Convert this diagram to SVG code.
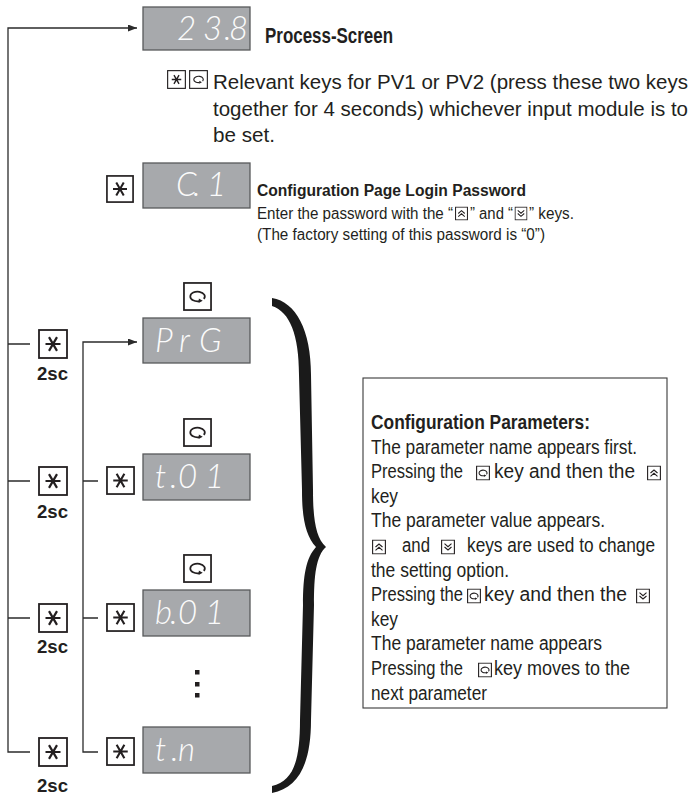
<svg xmlns="http://www.w3.org/2000/svg" xmlns:xlink="http://www.w3.org/1999/xlink" width="693" height="796" viewBox="0 0 693 796">
<style>
.ln{stroke:#2b2b2b;stroke-width:1.3;fill:none}
.disp{fill:#a7a9ac;stroke:#58595b;stroke-width:1.3}
.seg{font-family:Lato,Roboto,"DejaVu Sans",sans-serif;font-weight:300;font-style:italic;font-size:33px;fill:#fbfbfb}
.t{font-family:"Liberation Sans",Arial,sans-serif;fill:#231f20}
.b{font-weight:bold}
.f23{font-size:20.5px}
.f20{font-size:20px}
.f17{font-size:16px}
.dot{fill:#231f20}
</style>
<defs>
<marker id="ah" markerUnits="userSpaceOnUse" markerWidth="9" markerHeight="7" refX="9" refY="3.5" orient="auto">
<path d="M0,0L9,3.5L0,7Z" fill="#2b2b2b"/>
</marker>
<symbol id="kstar" viewBox="0 0 30 30">
<rect x="1" y="1" width="28" height="28" fill="#fff" stroke="#231f20" stroke-width="1.8"/>
<path d="M7.5,15H22.5M11,8.1L19,21.9M19,8.1L11,21.9" stroke="#231f20" stroke-width="2.2" fill="none"/>
</symbol>
<symbol id="kloop" viewBox="0 0 30 30">
<rect x="1" y="1" width="28" height="28" fill="#fff" stroke="#231f20" stroke-width="1.8"/>
<path d="M21.5,17.5A7.5,5 0 1 0 16.9,19.8" fill="none" stroke="#231f20" stroke-width="1.8"/>
<path d="M20.4,19.3L16.4,17.1L16.2,21.7Z" fill="#231f20"/>
</symbol>
<symbol id="iup" viewBox="0 0 14 15">
<rect x="0.6" y="0.6" width="12.8" height="13.8" fill="#fff" stroke="#231f20" stroke-width="1.1"/>
<path d="M3.5,7.5L7,4.5L10.5,7.5M3.5,10.8L7,7.8L10.5,10.8" fill="none" stroke="#231f20" stroke-width="1.1"/>
</symbol>
<symbol id="idn" viewBox="0 0 14 15">
<rect x="0.6" y="0.6" width="12.8" height="13.8" fill="#fff" stroke="#231f20" stroke-width="1.1"/>
<path d="M3.5,4.2L7,7.2L10.5,4.2M3.5,7.5L7,10.5L10.5,7.5" fill="none" stroke="#231f20" stroke-width="1.1"/>
</symbol>
<symbol id="iloop" viewBox="0 0 14 15">
<rect x="0.6" y="0.6" width="12.8" height="13.8" fill="#fff" stroke="#231f20" stroke-width="1.1"/>
<path d="M10.5,8.9A4,2.8 0 1 0 8,10.2" fill="none" stroke="#231f20" stroke-width="1.1"/>
<path d="M10.4,10.1L8,8.9L7.9,11.4Z" fill="#231f20"/>
</symbol>
</defs>

<g id="connectors">
<path class="ln" d="M30,752H8V28H137" marker-end="url(#ah)"/>
<path class="ln" d="M8,344H30M8,481H30M8,618H30"/>
<path class="ln" d="M98,752H83V342H137" marker-end="url(#ah)"/>
<path class="ln" d="M83,481H98M83,618H98"/>
</g>

<g id="n-process">
<rect class="disp" x="143" y="7" width="107" height="43"/>
<text class="seg" x="177 203 224 229" y="40">23.8</text>
<text class="t b" x="265" y="43" font-size="22" textLength="128" lengthAdjust="spacingAndGlyphs">Process-Screen</text>
</g>

<g id="n-keys-note">
<use href="#kstar" x="167" y="70" width="19" height="19"/>
<use href="#kloop" x="189" y="70" width="19" height="19"/>
<text class="t f23" x="213" y="89" textLength="475" lengthAdjust="spacingAndGlyphs">Relevant keys for PV1 or PV2 (press these two keys</text>
<text class="t f23" x="213" y="115.5" textLength="475" lengthAdjust="spacingAndGlyphs">together for 4 seconds) whichever input module is to</text>
<text class="t f23" x="213" y="142" textLength="62" lengthAdjust="spacingAndGlyphs">be set.</text>
</g>

<g id="n-login">
<use href="#kstar" x="106" y="175" width="28" height="28"/>
<rect class="disp" x="143" y="163" width="107" height="45"/>
<text class="seg" x="176 193 207" y="196">C.1</text>
<text class="t b f17" x="257" y="196" textLength="269" lengthAdjust="spacingAndGlyphs">Configuration Page Login Password</text>
<text class="t f17" x="257" y="219" textLength="196" lengthAdjust="spacingAndGlyphs">Enter the password with the “</text>
<use href="#iup" x="455" y="206.5" width="13" height="14"/>
<text class="t f17" x="470" y="219" textLength="43" lengthAdjust="spacingAndGlyphs">” and “</text>
<use href="#idn" x="514.5" y="206.5" width="13" height="14"/>
<text class="t f17" x="529" y="219" textLength="45" lengthAdjust="spacingAndGlyphs">” keys.</text>
<text class="t f17" x="257" y="240" textLength="288" lengthAdjust="spacingAndGlyphs">(The factory setting of this password is “0”)</text>
</g>

<g id="n-prg">
<use href="#kloop" x="183" y="282" width="29" height="29"/>
<rect class="disp" x="143" y="318" width="107" height="45"/>
<text class="seg" x="155 179 199" y="352">PrG</text>
</g>

<g id="n-t01">
<use href="#kloop" x="183" y="418" width="29" height="29"/>
<use href="#kstar" x="106" y="466" width="29" height="29"/>
<rect class="disp" x="143" y="454" width="107" height="46"/>
<text class="seg" x="155 170 178 205" y="488">t.01</text>
</g>

<g id="n-b01">
<use href="#kloop" x="183" y="554" width="29" height="29"/>
<use href="#kstar" x="106" y="603" width="29" height="29"/>
<rect class="disp" x="143" y="590" width="107" height="46"/>
<text class="seg" x="155 170 178 205" y="624">b.01</text>
</g>

<g id="n-dots">
<rect class="dot" x="195" y="670" width="4.5" height="4.5"/>
<rect class="dot" x="195" y="682" width="4.5" height="4.5"/>
<rect class="dot" x="195" y="693" width="4.5" height="4.5"/>
</g>

<g id="n-tn">
<use href="#kstar" x="106" y="737" width="29" height="29"/>
<rect class="disp" x="143" y="727" width="107" height="46"/>
<text class="seg" x="155 171 178" y="761">t.n</text>
</g>

<g id="n-2sc-1">
<use href="#kstar" x="38" y="329" width="30" height="30"/>
<text class="t b" x="37" y="380" font-size="19" textLength="31" lengthAdjust="spacingAndGlyphs">2sc</text>
</g>
<g id="n-2sc-2">
<use href="#kstar" x="38" y="466" width="30" height="30"/>
<text class="t b" x="37" y="518" font-size="19" textLength="31" lengthAdjust="spacingAndGlyphs">2sc</text>
</g>
<g id="n-2sc-3">
<use href="#kstar" x="38" y="603" width="30" height="30"/>
<text class="t b" x="37" y="653" font-size="19" textLength="31" lengthAdjust="spacingAndGlyphs">2sc</text>
</g>
<g id="n-2sc-4">
<use href="#kstar" x="38" y="737" width="30" height="30"/>
<text class="t b" x="37" y="792" font-size="19" textLength="31" lengthAdjust="spacingAndGlyphs">2sc</text>
</g>

<g id="brace">
<path fill="#1a1a1a" d="M272,298C296,302 311,330 311,375L313,490C313,520 316,538 326,547C316,556 314,575 314,605L311,720C311,765 298,788 272,793L272,786C293,781 300,762 300,720L303,605C303,575 306,558 316,547C306,536 302,520 302,490L299,375C299,335 290,312 272,306Z"/>
</g>

<g id="n-params">
<rect x="363" y="378" width="304" height="330" fill="#fff" stroke="#3a3a3a" stroke-width="1.1"/>
<text class="t b f20" x="371" y="429" textLength="219" lengthAdjust="spacingAndGlyphs">Configuration Parameters:</text>
<text class="t f20" x="371" y="454" textLength="266" lengthAdjust="spacingAndGlyphs">The parameter name appears first.</text>
<text class="t f20" x="371" y="478" textLength="92" lengthAdjust="spacingAndGlyphs">Pressing the</text>
<use href="#iloop" x="476" y="465.5" width="14" height="15"/>
<text class="t f20" x="494" y="478" textLength="141" lengthAdjust="spacingAndGlyphs">key and then the</text>
<use href="#iup" x="647" y="465.5" width="14" height="15"/>
<text class="t f20" x="371" y="503" textLength="27" lengthAdjust="spacingAndGlyphs">key</text>
<text class="t f20" x="371" y="527" textLength="234" lengthAdjust="spacingAndGlyphs">The parameter value appears.</text>
<use href="#iup" x="372" y="539.5" width="14" height="15"/>
<text class="t f20" x="402" y="552" textLength="28" lengthAdjust="spacingAndGlyphs">and</text>
<use href="#idn" x="441" y="539.5" width="14" height="15"/>
<text class="t f20" x="467" y="552" textLength="188" lengthAdjust="spacingAndGlyphs">keys are used to change</text>
<text class="t f20" x="371" y="577" textLength="138" lengthAdjust="spacingAndGlyphs">the setting option.</text>
<text class="t f20" x="371" y="601" textLength="92" lengthAdjust="spacingAndGlyphs">Pressing the</text>
<use href="#iloop" x="467" y="588.5" width="14" height="15"/>
<text class="t f20" x="484" y="601" textLength="143" lengthAdjust="spacingAndGlyphs">key and then the</text>
<use href="#idn" x="636" y="588.5" width="14" height="15"/>
<text class="t f20" x="371" y="626" textLength="27" lengthAdjust="spacingAndGlyphs">key</text>
<text class="t f20" x="371" y="650" textLength="231" lengthAdjust="spacingAndGlyphs">The parameter name appears</text>
<text class="t f20" x="371" y="675" textLength="92" lengthAdjust="spacingAndGlyphs">Pressing the</text>
<use href="#iloop" x="478" y="662.5" width="14" height="15"/>
<text class="t f20" x="494" y="675" textLength="136" lengthAdjust="spacingAndGlyphs">key moves to the</text>
<text class="t f20" x="371" y="700" textLength="116" lengthAdjust="spacingAndGlyphs">next parameter</text>
</g>
</svg>
